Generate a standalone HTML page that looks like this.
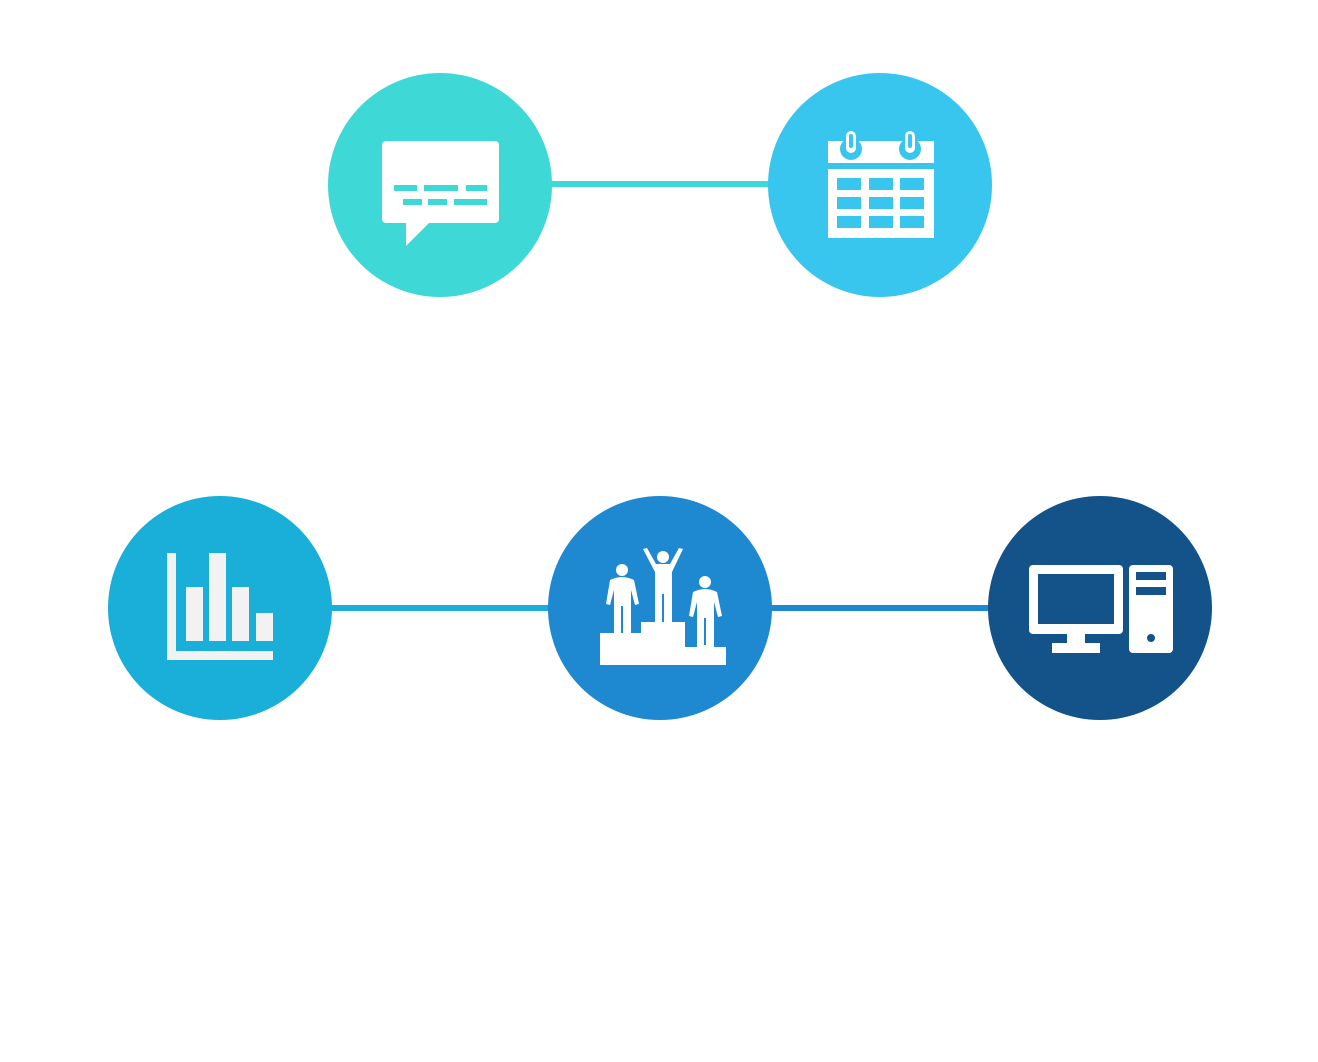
<!DOCTYPE html>
<html><head><meta charset="utf-8"><style>html,body{margin:0;padding:0;background:#fff;}svg{display:block}</style></head>
<body>
<svg width="1318" height="1062" viewBox="0 0 1318 1062" xmlns="http://www.w3.org/2000/svg">
<rect width="1318" height="1062" fill="#fff"/>
<rect x="545" y="181" width="230" height="6" fill="#3ed9d6"/>
<rect x="325" y="605" width="230" height="6" fill="#1aafd8"/>
<rect x="765" y="605" width="230" height="6" fill="#1e88d0"/>
<circle cx="440" cy="185" r="112" fill="#3ed9d6"/>
<circle cx="880" cy="185" r="112" fill="#38c6ef"/>
<circle cx="220" cy="608" r="112" fill="#1aafd8"/>
<circle cx="660" cy="608" r="112" fill="#1e88d0"/>
<circle cx="1100" cy="608" r="112" fill="#14538a"/>
<rect x="382" y="141" width="117" height="82" rx="4" fill="#fff"/>
<polygon points="406,222 406,246 430,222" fill="#fff"/>
<g fill="#3ed9d6">
<rect x="394" y="185" width="23" height="6"/><rect x="424" y="185" width="34" height="6"/><rect x="466" y="185" width="21" height="6"/>
<rect x="403" y="199" width="19" height="6"/><rect x="428" y="199" width="19" height="6"/><rect x="454" y="199" width="33" height="6"/>
</g>
<rect x="828" y="141" width="106" height="22" fill="#fff"/>
<rect x="828" y="169" width="106" height="69" fill="#fff"/>
<g fill="#38c6ef">
<rect x="837" y="178" width="24" height="12"/><rect x="869" y="178" width="24" height="12"/><rect x="900" y="178" width="24" height="12"/>
<rect x="837" y="197" width="24" height="12"/><rect x="869" y="197" width="24" height="12"/><rect x="900" y="197" width="24" height="12"/>
<rect x="837" y="216" width="24" height="12"/><rect x="869" y="216" width="24" height="12"/><rect x="900" y="216" width="24" height="12"/>
<circle cx="851" cy="149" r="11"/><circle cx="910" cy="149" r="11"/>
</g>
<rect x="846" y="131" width="10" height="22" rx="5" fill="#fff"/>
<rect x="905" y="131" width="10" height="22" rx="5" fill="#fff"/>
<rect x="849" y="134" width="4" height="14" rx="2" fill="#38c6ef"/>
<rect x="908" y="134" width="4" height="14" rx="2" fill="#38c6ef"/>
<g fill="#f2f2f2">
<rect x="167" y="553" width="9" height="107"/><rect x="167" y="651" width="106" height="9"/>
<rect x="186" y="587" width="17" height="54"/><rect x="209" y="553" width="17" height="88"/>
<rect x="232" y="587" width="17" height="54"/><rect x="256" y="613" width="17" height="28"/>
</g>
<g fill="#fff">
<rect x="600" y="647" width="126" height="18"/>
<rect x="600" y="633" width="85" height="16"/>
<rect x="641" y="622" width="44" height="12"/>
<rect x="713" y="647" width="13" height="2"/>
<circle cx="622" cy="570" r="6"/><path d="M610 580 Q622 574 634 580 L639 604 L635 605 L631 590 L631 633 L614 633 L614 590 L610 605 L606 604 Z"/>
<circle cx="705" cy="582" r="6"/><path d="M693 592 Q705 586 717 592 L722 616 L718 617 L714 602 L714 647 L697 647 L697 602 L693 617 L689 616 Z"/>
<circle cx="663" cy="557" r="6"/><path d="M643 549 L647 548 L656 564 L670 564 L679 548 L683 549 L672 572 L672 622 L655 622 L655 572 Z"/>
</g>
<g fill="#1e88d0"><rect x="621" y="606" width="2" height="27"/><rect x="704" y="618" width="2" height="27"/><rect x="662" y="594" width="2" height="28"/></g>
<rect x="1029" y="565" width="94" height="69" rx="4" fill="#fff"/>
<rect x="1038" y="574" width="76" height="50" fill="#14538a"/>
<rect x="1067" y="633" width="18" height="11" fill="#fff"/>
<rect x="1052" y="643" width="48" height="10" fill="#fff"/>
<rect x="1129" y="565" width="44" height="88" rx="4" fill="#fff"/>
<rect x="1136" y="572" width="30" height="8" fill="#14538a"/>
<rect x="1136" y="587" width="30" height="8" fill="#14538a"/>
<circle cx="1151" cy="638" r="4" fill="#14538a"/>
</svg>
</body></html>
